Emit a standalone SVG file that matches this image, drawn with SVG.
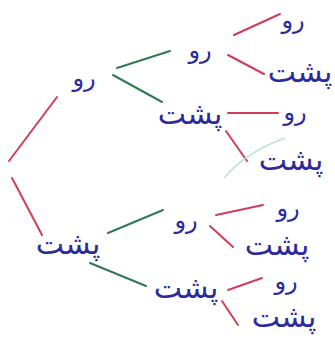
<svg xmlns="http://www.w3.org/2000/svg" width="335" height="338" viewBox="0 0 335 338">
<style>
.r{stroke:#d23c5a;stroke-width:2;stroke-linecap:round;fill:none}
.g{stroke:#2e7a55;stroke-width:2;stroke-linecap:round;fill:none}
.f{stroke:#bfe3cc;stroke-width:1.5;fill:none}
text{font-family:"DejaVu Sans",sans-serif;fill:#2b2b9c;font-size:24px;text-anchor:middle}
.p{font-size:30px}
</style>
<rect width="335" height="338" fill="#fff"/>
<g id="connectors">
<line class="r" x1="9" y1="161" x2="57" y2="97"/>
<line class="r" x1="12" y1="178" x2="42" y2="235"/>
<line class="g" x1="117" y1="68" x2="170" y2="51"/>
<line class="g" x1="113" y1="75" x2="162" y2="102"/>
<line class="g" x1="108" y1="233" x2="163" y2="210"/>
<line class="g" x1="90" y1="263" x2="146" y2="286"/>
<line class="r" x1="234" y1="35" x2="280" y2="14"/>
<line class="r" x1="228" y1="55" x2="264" y2="74"/>
<line class="r" x1="228" y1="113" x2="278" y2="113"/>
<line class="r" x1="226" y1="131" x2="247" y2="161"/>
<path class="f" d="M224 178 Q246 152 285 138"/>
<line class="r" x1="216" y1="215" x2="263" y2="205"/>
<line class="r" x1="210" y1="226" x2="233" y2="247"/>
<line class="r" x1="228" y1="290" x2="262" y2="278"/>
<line class="r" x1="222" y1="301" x2="238" y2="325"/>
</g>
<g id="n-root-ru"><text x="84" y="86">رو</text></g>
<g id="n-root-posht"><text class="p" x="68" y="254">پشت</text></g>
<g id="n-ru-ru"><text x="200" y="58">رو</text></g>
<g id="n-ru-posht"><text class="p" x="190" y="124">پشت</text></g>
<g id="n-posht-ru"><text x="186" y="228">رو</text></g>
<g id="n-posht-posht"><text class="p" x="186" y="298">پشت</text></g>
<g id="n-rr-ru"><text x="293" y="28">رو</text></g>
<g id="n-rr-posht"><text class="p" x="300" y="82">پشت</text></g>
<g id="n-rp-ru"><text x="295" y="120">رو</text></g>
<g id="n-rp-posht"><text class="p" x="291" y="170">پشت</text></g>
<g id="n-pr-ru"><text x="288" y="216">رو</text></g>
<g id="n-pr-posht"><text class="p" x="277" y="255">پشت</text></g>
<g id="n-pp-ru"><text x="286" y="289">رو</text></g>
<g id="n-pp-posht"><text class="p" x="284" y="327">پشت</text></g>
</svg>
